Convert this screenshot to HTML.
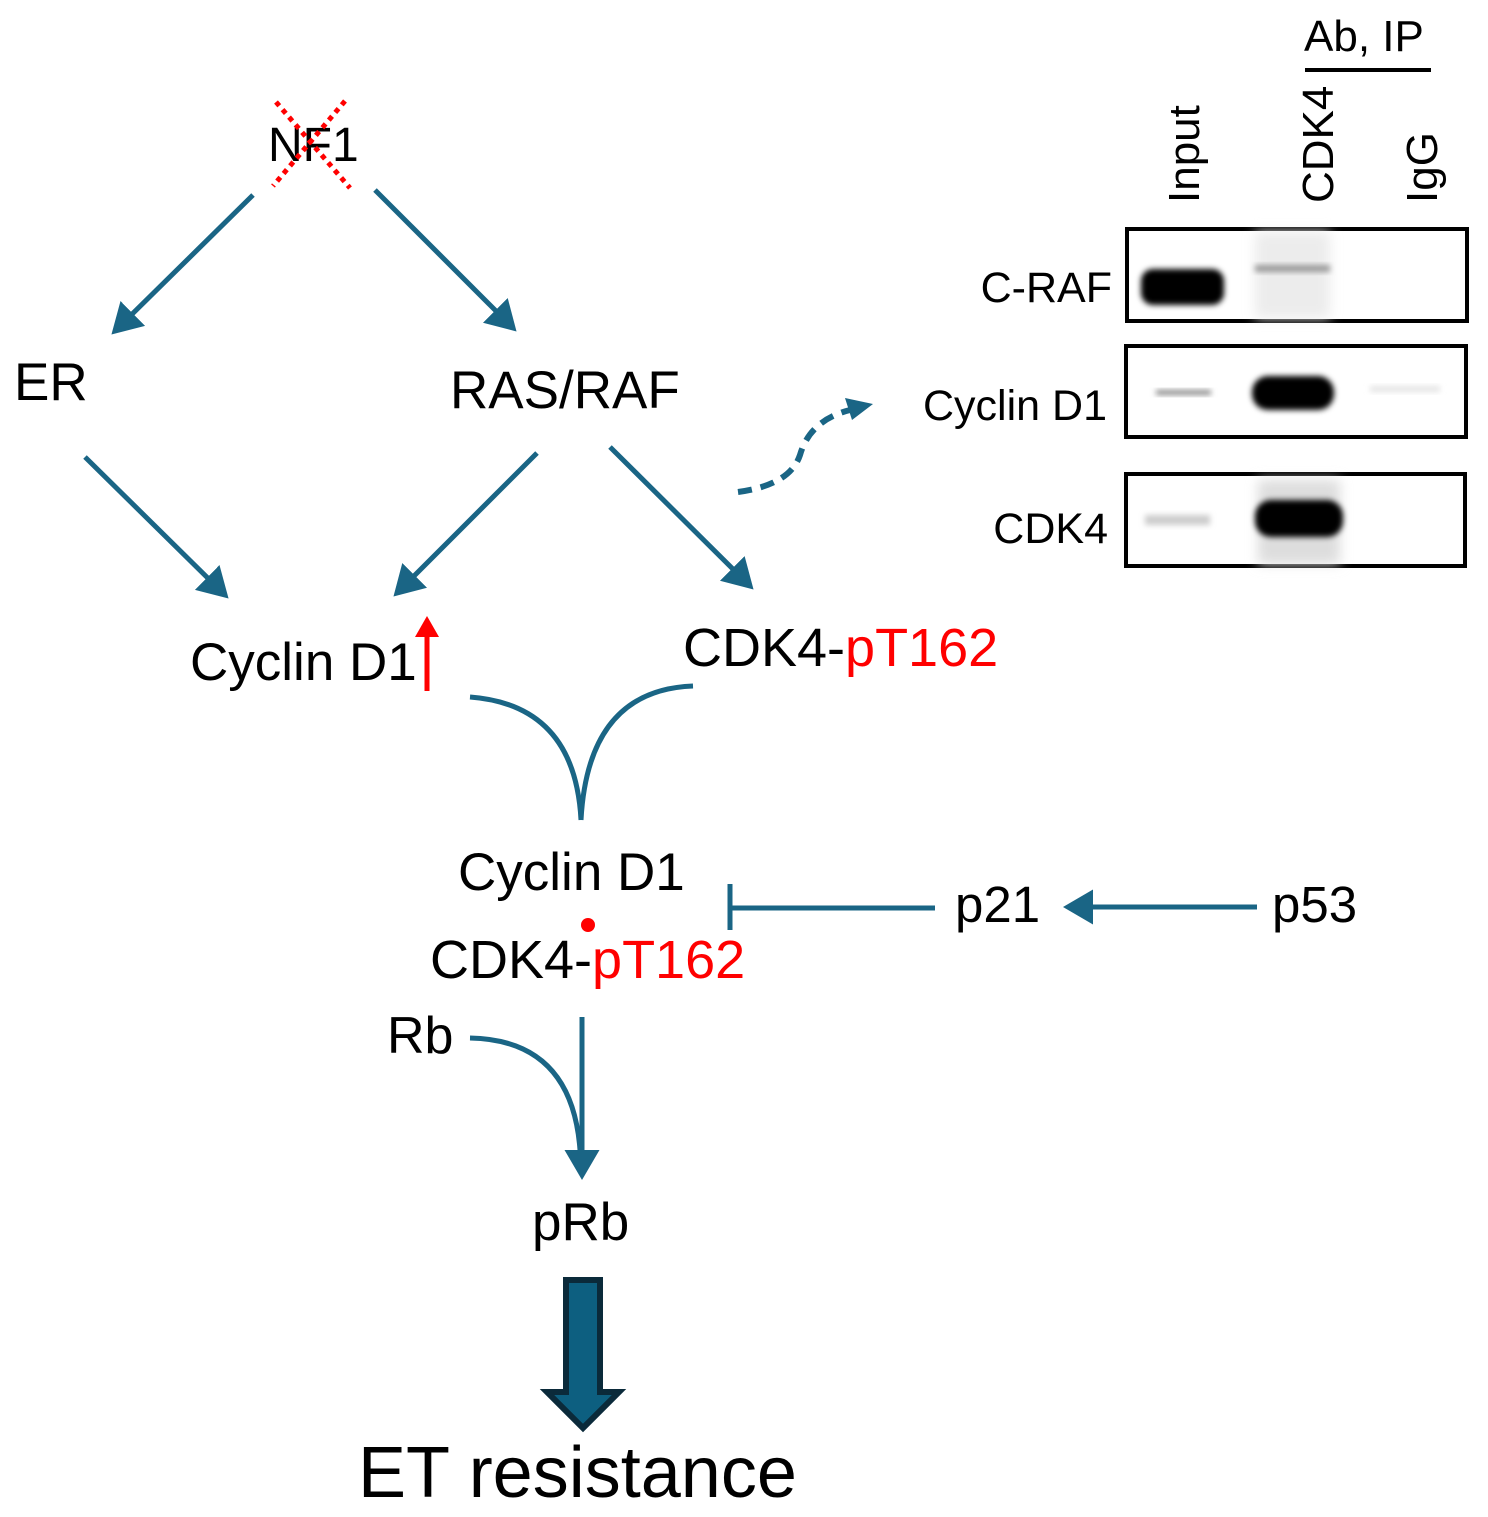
<!DOCTYPE html>
<html><head><meta charset="utf-8"><style>html,body{margin:0;padding:0;background:#fff}svg{display:block}</style></head>
<body>
<svg width="1488" height="1517" viewBox="0 0 1488 1517" xmlns="http://www.w3.org/2000/svg" font-family="Liberation Sans, Arial, sans-serif">
<defs>
<marker id="ah" markerWidth="8" markerHeight="8" refX="5" refY="4" orient="auto" markerUnits="strokeWidth"><path d="M0,0.5 L6,4 L0,7.5 Z" fill="#1a6585"/></marker>
<filter id="bl" x="-50%" y="-50%" width="200%" height="200%"><feGaussianBlur stdDeviation="3"/></filter>
<filter id="bl2" x="-50%" y="-50%" width="200%" height="200%"><feGaussianBlur stdDeviation="6"/></filter>
</defs>
<g stroke="#1a6585" stroke-width="5" fill="none">
<line x1="253" y1="195" x2="115" y2="331" marker-end="url(#ah)"/>
<line x1="375" y1="190" x2="513" y2="328" marker-end="url(#ah)"/>
<line x1="85" y1="457" x2="225" y2="595" marker-end="url(#ah)"/>
<line x1="537" y1="453" x2="397" y2="593" marker-end="url(#ah)"/>
<line x1="610" y1="447" x2="750" y2="586" marker-end="url(#ah)"/>
<path d="M470,697 Q575,705 581,820"/>
<path d="M693,686 Q588,690 581,820"/>
<line x1="935" y1="908" x2="730" y2="908"/>
<line x1="730" y1="884" x2="730" y2="930"/>
<line x1="1257" y1="907" x2="1068" y2="907" marker-end="url(#ah)"/>
<line x1="582" y1="1017" x2="582" y2="1175" marker-end="url(#ah)"/>
<path d="M470,1038 Q572,1040 580,1150"/>
<path d="M738,492 Q790,485 800,455 Q810,420 850,410" stroke-dasharray="14,9" stroke-width="6"/>
</g>
<path d="M845,398 L873,404 L852,420 Z" fill="#1a6585"/>
<!-- big arrow -->
<path d="M566,1280 L600,1280 L600,1392 L619,1392 L583,1428 L547,1392 L566,1392 Z" fill="#0d5f80" stroke="#0b2a3a" stroke-width="6" stroke-linejoin="miter"/>
<!-- red up arrow -->
<line x1="427" y1="691" x2="427" y2="630" stroke="#f00" stroke-width="5"/>
<path d="M415,637 L427,616 L439,637 Z" fill="#f00"/>
<circle cx="588" cy="925" r="7" fill="#f00"/>
<!-- NF1 -->
<text x="268" y="161" font-size="48">NF1</text>
<g stroke="#f00" stroke-width="5" stroke-dasharray="5,5"><line x1="276" y1="102" x2="350" y2="188"/><line x1="345" y1="101" x2="273" y2="186"/></g>
<g font-size="53" fill="#000">
<text x="14" y="400">ER</text>
<text x="450" y="408">RAS/RAF</text>
<text x="190" y="680">Cyclin D1</text>
<text x="683" y="666" font-size="54">CDK4-<tspan fill="#f00">pT162</tspan></text>
<text x="458" y="890">Cyclin D1</text>
<text x="430" y="978" font-size="54">CDK4-<tspan fill="#f00">pT162</tspan></text>
<text x="955" y="922" font-size="51">p21</text>
<text x="1272" y="922" font-size="51">p53</text>
<text x="387" y="1053" font-size="52">Rb</text>
<text x="532" y="1240">pRb</text>
<text x="358" y="1497" font-size="72">ET resistance</text>
</g>
<!-- blot labels -->
<g font-size="43" text-anchor="end">
<text x="1112" y="302">C-RAF</text>
<text x="1107" y="420">Cyclin D1</text>
<text x="1108" y="543">CDK4</text>
</g>
<g font-size="44">
<text transform="translate(1199,203) rotate(-90)">Input</text>
<text transform="translate(1333,203) rotate(-90)">CDK4</text>
<text transform="translate(1437,203) rotate(-90)">IgG</text>
<text x="1304" y="51">Ab, IP</text>
</g>
<line x1="1305" y1="70" x2="1431" y2="70" stroke="#000" stroke-width="4"/>
<!-- blots -->
<g fill="none" stroke="#000" stroke-width="4">
<rect x="1127" y="229" width="340" height="92"/>
<rect x="1126" y="346" width="340" height="91"/>
<rect x="1126" y="474" width="339" height="92"/>
</g>
<g>
<rect x="1255" y="232" width="75" height="86" fill="#ececec" filter="url(#bl2)"/>
<rect x="1255" y="265" width="75" height="7" fill="#999" filter="url(#bl)"/>
<rect x="1141" y="269" width="83" height="36" rx="12" fill="#000" filter="url(#bl)"/>
<rect x="1156" y="390" width="55" height="5" fill="#888" filter="url(#bl)"/>
<rect x="1252" y="376" width="82" height="34" rx="16" fill="#000" filter="url(#bl)"/>
<rect x="1370" y="386" width="70" height="6" fill="#e4e4e4" filter="url(#bl)"/>
<rect x="1258" y="480" width="82" height="84" fill="#ddd" filter="url(#bl2)"/>
<rect x="1145" y="515" width="65" height="10" fill="#ccc" filter="url(#bl)"/>
<rect x="1255" y="500" width="88" height="37" rx="16" fill="#000" filter="url(#bl)"/>
</g>
</svg>
</body></html>
